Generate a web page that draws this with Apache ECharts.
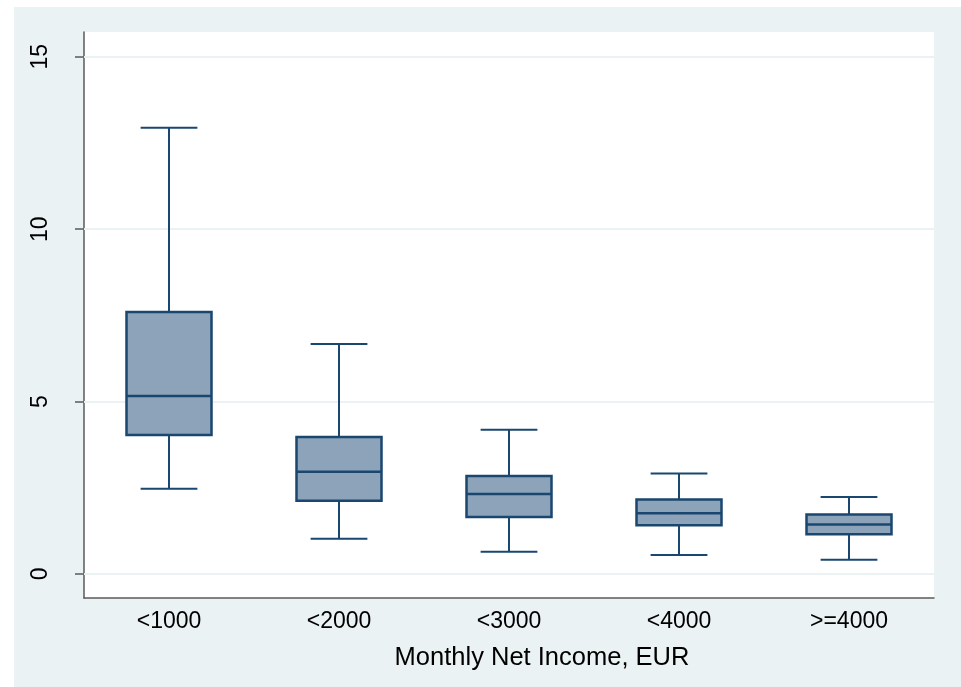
<!DOCTYPE html>
<html>
<head>
<meta charset="utf-8">
<script src="https://cdn.jsdelivr.net/npm/echarts@6/dist/echarts.min.js"></script>
<style>
  html, body { margin: 0; padding: 0; background: #ffffff; }
  #chart { width: 961px; height: 687px; }
</style>
</head>
<body>
<div id="chart"></div>
<script>
// Income groups on the x axis
const categories = ['<1000', '<2000', '<3000', '<4000', '>=4000'];
// Box statistics per group: lower whisker, Q1, median, Q3, upper whisker
const lowerWhisker = [2.47, 1.02, 0.64, 0.55, 0.41];
const quartile1    = [4.03, 2.12, 1.65, 1.41, 1.15];
const medians      = [5.16, 2.96, 2.32, 1.76, 1.43];
const quartile3    = [7.60, 3.97, 2.84, 2.16, 1.72];
const upperWhisker = [12.94, 6.67, 4.18, 2.91, 2.23];
// Y axis tick values
const yTicks = [0, 5, 10, 15];

const boxData = categories.map((c, i) => [
  i, lowerWhisker[i], quartile1[i], medians[i], quartile3[i], upperWhisker[i]
]);

const STROKE = '#1a476f';
const FILL = '#8da3b9';

function renderBox(params, api) {
  const idx = api.value(0);
  const pLow = api.coord([idx, api.value(1)]);
  const pQ1 = api.coord([idx, api.value(2)]);
  const pMed = api.coord([idx, api.value(3)]);
  const pQ3 = api.coord([idx, api.value(4)]);
  const pHigh = api.coord([idx, api.value(5)]);
  const band = api.size([1, 0])[0];
  const x = pMed[0];
  const halfBox = band * 0.25;
  const halfCap = band * 0.167;
  const line = { stroke: STROKE, lineWidth: 2 };
  return {
    type: 'group',
    children: [
      { type: 'line', shape: { x1: x, y1: pQ3[1], x2: x, y2: pHigh[1] }, style: line },
      { type: 'line', shape: { x1: x, y1: pQ1[1], x2: x, y2: pLow[1] }, style: line },
      { type: 'line', shape: { x1: x - halfCap, y1: pHigh[1], x2: x + halfCap, y2: pHigh[1] }, style: line },
      { type: 'line', shape: { x1: x - halfCap, y1: pLow[1], x2: x + halfCap, y2: pLow[1] }, style: line },
      {
        type: 'rect',
        shape: { x: x - halfBox, y: pQ3[1], width: halfBox * 2, height: pQ1[1] - pQ3[1] },
        style: { fill: FILL, stroke: STROKE, lineWidth: 2.5 }
      },
      { type: 'line', shape: { x1: x - halfBox, y1: pMed[1], x2: x + halfBox, y2: pMed[1] }, style: { stroke: STROKE, lineWidth: 2.5 } }
    ]
  };
}

const chart = echarts.init(document.getElementById('chart'), null, { renderer: 'canvas' });

chart.setOption({
  backgroundColor: '#ffffff',
  animation: false,
  graphic: [{
    type: 'rect',
    z: -10,
    silent: true,
    shape: { x: 14, y: 7, width: 961 - 14, height: 687 - 7 },
    style: { fill: '#eaf2f3' }
  }],
  grid: {
    left: 84, right: 27, top: 32, bottom: 89,
    show: true, backgroundColor: '#ffffff', borderWidth: 0
  },
  xAxis: {
    type: 'category',
    data: categories,
    boundaryGap: true,
    axisLine: { show: true, onZero: false, lineStyle: { color: '#5b5b5b', width: 1.5 } },
    axisTick: { show: false },
    axisLabel: { color: '#000000', fontFamily: 'Liberation Sans', fontSize: 23, margin: 12 },
    splitLine: { show: false },
    name: 'Monthly Net Income, EUR',
    nameLocation: 'middle',
    nameGap: 47,
    nameTextStyle: {
      color: '#000000', fontFamily: 'Liberation Sans', fontSize: 25.5,
      padding: [0, 0, 0, 66]
    }
  },
  yAxis: {
    type: 'value',
    min: -0.70,
    max: 15.72,
    axisLine: { show: true, onZero: false, lineStyle: { color: '#5b5b5b', width: 1.5 } },
    axisTick: { show: true, length: 9, customValues: yTicks, lineStyle: { color: '#5b5b5b', width: 1.5 } },
    axisLabel: {
      customValues: yTicks,
      rotate: 90,
      color: '#000000',
      fontFamily: 'Liberation Sans',
      fontSize: 23,
      margin: 32
    },
    splitLine: { show: false }
  },
  series: [{
    type: 'custom',
    renderItem: renderBox,
    data: boxData,
    encode: { x: 0, y: [1, 2, 3, 4, 5] },
    markLine: {
      silent: true,
      symbol: ['none', 'none'],
      symbolSize: 0,
      label: { show: false },
      emphasis: { disabled: true },
      lineStyle: { color: '#eaf2f3', width: 2, type: 'solid' },
      data: yTicks.map(v => ({ yAxis: v }))
    },
    z: 5
  }]
});
</script>
</body>
</html>
